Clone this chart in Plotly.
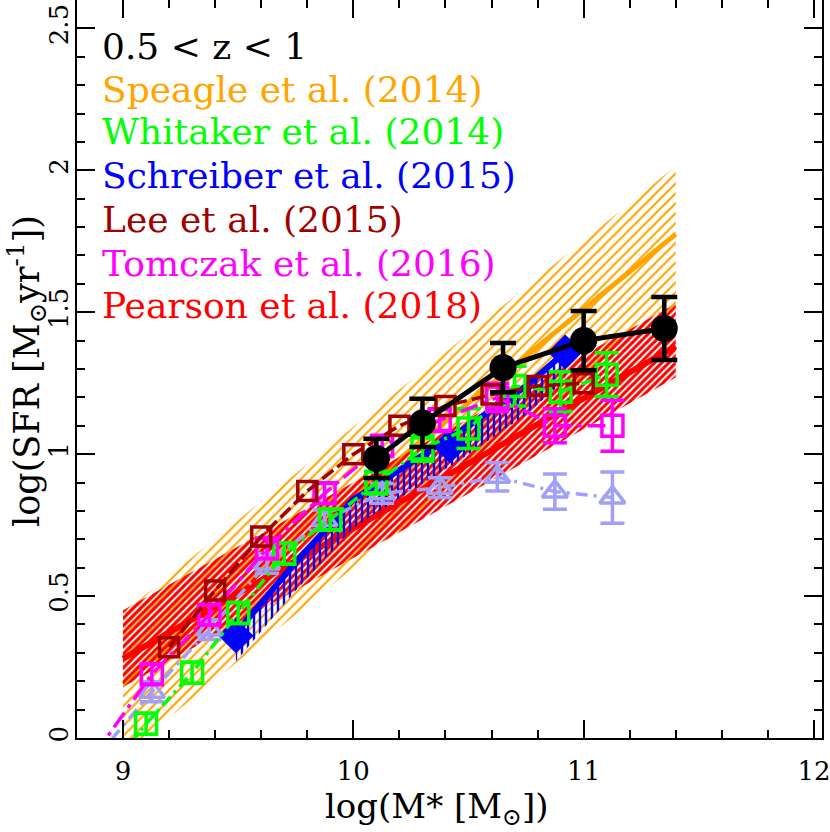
import plotly.graph_objects as go

# ---------------- data ----------------
# Speagle et al. (2014): main sequence line and +/- scatter band
speagle_mass = [9.0, 11.4]
speagle_sfr = [0.19, 1.775]
speagle_upper = [0.44, 2.015]
speagle_lower = [-0.06, 1.525]

# Pearson et al. (2018)
pearson_mass = [9.0, 11.4]
pearson_sfr = [0.28, 1.38]
pearson_upper = [0.45, 1.53]
pearson_lower = [0.18, 1.27]

# Schreiber et al. (2015)
schreiber_mass = [9.49, 9.75, 10.0, 10.25, 10.5, 10.75, 10.92]
schreiber_sfr = [0.37, 0.62, 0.84, 0.97, 1.10, 1.24, 1.36]
schreiber_lower = [0.27, 0.52, 0.74, 0.87, 1.00, 1.14, 1.26]
schreiber_pt_mass = [9.49, 10.42, 10.92]
schreiber_pt_sfr = [0.36, 1.03, 1.36]

# Whitaker et al. (2014)
whitaker_mass = [8.9, 9.1, 9.3, 9.5, 9.7, 9.9, 10.1, 10.3, 10.5, 10.7, 10.9, 11.1]
whitaker_sfr = [-0.16, 0.05, 0.23, 0.44, 0.65, 0.77, 0.90, 1.02, 1.09, 1.24, 1.22, 1.28]
whitaker_err = [0.035, 0.037, 0.037, 0.037, 0.037, 0.037, 0.04, 0.045, 0.07, 0.07, 0.07, 0.077]

# Lee et al. (2015)
lee_mass = [9.2, 9.4, 9.6, 9.8, 10.0, 10.2, 10.4, 10.6, 10.8, 11.0]
lee_sfr = [0.32, 0.52, 0.71, 0.87, 1.00, 1.10, 1.17, 1.21, 1.24, 1.25]

# Tomczak et al. (2016)
tomczak_mass = [8.875, 9.125, 9.375, 9.625, 9.875, 10.125, 10.375, 10.625, 10.875, 11.125]
tomczak_sfr = [-0.06, 0.225, 0.434, 0.668, 0.862, 1.03, 1.12, 1.20, 1.10, 1.10]
tomczak_err = [0.035, 0.035, 0.035, 0.035, 0.035, 0.035, 0.04, 0.05, 0.06, 0.09]

# Second Tomczak-style sample (light purple triangles)
tri_mass = [8.875, 9.125, 9.375, 9.625, 9.875, 10.125, 10.375, 10.625, 10.875, 11.125]
tri_sfr = [-0.077, 0.163, 0.382, 0.615, 0.768, 0.862, 0.882, 0.92, 0.868, 0.847]
tri_err = [0.035, 0.035, 0.035, 0.035, 0.035, 0.035, 0.035, 0.05, 0.062, 0.09]

# This work (black)
this_mass = [10.1, 10.3, 10.65, 11.0, 11.35]
this_sfr = [0.985, 1.11, 1.305, 1.40, 1.443]
this_err = [0.069, 0.085, 0.087, 0.104, 0.111]

legend_labels = ["0.5 < z < 1", "Speagle et al. (2014)", "Whitaker et al. (2014)",
                 "Schreiber et al. (2015)", "Lee et al. (2015)",
                 "Tomczak et al. (2016)", "Pearson et al. (2018)"]
legend_colors = ["#000000", "#ffa500", "#00ff00", "#0000ff", "#a00000", "#ff00ff", "#ff0000"]

ORANGE = "#ffa500"
GREEN = "#00ff00"
BLUE = "#0000ff"
BROWN = "#a00000"
MAGENTA = "#ff00ff"
LAV = "#a0a0f8"
RED = "#ff0000"
TRANSP = "rgba(0,0,0,0)"

fig = go.Figure()


def band(xs, lo, hi, color, shape, size, solidity):
    fig.add_trace(go.Scatter(
        x=list(xs) + list(xs)[::-1], y=list(hi) + list(lo)[::-1],
        fill="toself", mode="lines", line=dict(width=0, color=TRANSP),
        fillcolor=TRANSP,
        fillpattern=dict(shape=shape, fgcolor=color, bgcolor=TRANSP,
                         size=size, solidity=solidity, fillmode="replace"),
        hoverinfo="skip", showlegend=False))


# Speagle band + line
band(speagle_mass, speagle_lower, speagle_upper, ORANGE, "/", 7, 0.3)
fig.add_trace(go.Scatter(x=speagle_mass, y=speagle_sfr, mode="lines",
                         line=dict(color=ORANGE, width=5), showlegend=False))

# Pearson band + line
band(pearson_mass, pearson_lower, pearson_upper, RED, "/", 5, 0.6)
fig.add_trace(go.Scatter(x=pearson_mass, y=pearson_sfr, mode="lines",
                         line=dict(color=RED, width=6), showlegend=False))

# Schreiber band + line + points
band(schreiber_mass, schreiber_lower, schreiber_sfr, BLUE, "|", 6, 0.4)
fig.add_trace(go.Scatter(x=schreiber_mass, y=schreiber_sfr, mode="lines",
                         line=dict(color=BLUE, width=6), showlegend=False))
fig.add_trace(go.Scatter(x=schreiber_pt_mass, y=schreiber_pt_sfr, mode="markers",
                         marker=dict(symbol="diamond", size=27, color=BLUE),
                         showlegend=False))

# Triangles (light purple)
fig.add_trace(go.Scatter(
    x=tri_mass, y=tri_sfr, mode="lines+markers",
    line=dict(color=LAV, width=3.5, dash="12px,6px,3px,6px"),
    marker=dict(symbol="triangle-up-open", size=22, color=LAV, line=dict(width=3.5, color=LAV)),
    error_y=dict(type="data", array=tri_err, color=LAV, thickness=3.5, width=12),
    showlegend=False))

# Whitaker
fig.add_trace(go.Scatter(
    x=whitaker_mass, y=whitaker_sfr, mode="lines+markers",
    line=dict(color=GREEN, width=3.5, dash="12px,5px,3px,5px"),
    marker=dict(symbol="square-open", size=21, color=GREEN, line=dict(width=3.5, color=GREEN)),
    error_y=dict(type="data", array=whitaker_err, color=GREEN, thickness=3.5, width=12),
    showlegend=False))

# Tomczak
fig.add_trace(go.Scatter(
    x=tomczak_mass, y=tomczak_sfr, mode="lines+markers",
    line=dict(color=MAGENTA, width=3.5, dash="18px,6px,4px,6px"),
    marker=dict(symbol="square-open", size=21, color=MAGENTA, line=dict(width=3.5, color=MAGENTA)),
    error_y=dict(type="data", array=tomczak_err, color=MAGENTA, thickness=3.5, width=12),
    showlegend=False))

# Lee
fig.add_trace(go.Scatter(
    x=lee_mass, y=lee_sfr, mode="lines+markers",
    line=dict(color=BROWN, width=3.5, dash="14px,5px"),
    marker=dict(symbol="square-open", size=19, color=BROWN, line=dict(width=3.5, color=BROWN)),
    showlegend=False))

# This work
fig.add_trace(go.Scatter(
    x=this_mass, y=this_sfr, mode="lines+markers",
    line=dict(color="black", width=5),
    marker=dict(symbol="circle", size=27, color="black"),
    error_y=dict(type="data", array=this_err, color="black", thickness=4.5, width=13),
    showlegend=False))

# legend texts
PL, PT, PW, PH = 77, 0, 745, 738
legend_mid_y = [46, 89, 131, 175, 219, 264, 305]
for lab, col, py in zip(legend_labels, legend_colors, legend_mid_y):
    fig.add_annotation(text=lab, x=(100 - PL) / PW, y=1 - (py - PT) / PH,
                       xref="paper", yref="paper", xanchor="left", yanchor="middle",
                       showarrow=False, font=dict(family="DejaVu Serif", size=36, color=col))

# axis titles
fig.add_annotation(text="log(M* [M<sub>⊙</sub>])", x=(437 - PL) / PW, y=1 - (808 - PT) / PH,
                   xref="paper", yref="paper", xanchor="center", yanchor="middle",
                   showarrow=False, font=dict(family="DejaVu Serif", size=34, color="black"))
fig.add_annotation(text="log(SFR [M<sub>⊙</sub>yr<sup>-1</sup>])", x=(26 - PL) / PW,
                   y=1 - (371 - PT) / PH, textangle=-90,
                   xref="paper", yref="paper", xanchor="center", yanchor="middle",
                   showarrow=False, font=dict(family="DejaVu Serif", size=35, color="black"))

axis_common = dict(showgrid=False, zeroline=False, showline=True, linecolor="black",
                   linewidth=2, mirror="allticks", ticks="inside", ticklen=18,
                   tickwidth=1.5, tickcolor="black", automargin=False,
                   ticklabeloverflow="allow",
                   tickfont=dict(family="DejaVu Serif", size=26, color="black"))
fig.update_xaxes(range=[8.8, 12.035], tick0=9, dtick=1,
                 minor=dict(dtick=0.2, tick0=9, ticklen=8, ticks="inside", tickcolor="black", tickwidth=1.5),
                 ticklabelstandoff=9, **axis_common)
fig.update_yaxes(range=[0, 2.6], tick0=0, dtick=0.5, tickangle=-90,
                 minor=dict(dtick=0.1, tick0=0, ticklen=8, ticks="inside", tickcolor="black", tickwidth=1.5),
                 ticklabelstandoff=-3, **axis_common)

fig.update_layout(width=830, height=832, margin=dict(l=77, r=8, t=0, b=94, autoexpand=False),
                  plot_bgcolor="white", paper_bgcolor="white", showlegend=False)

fig.write_html("out.html", config={"displayModeBar": False},
               post_script="document.body.style.margin='0';document.body.style.padding='0';")
